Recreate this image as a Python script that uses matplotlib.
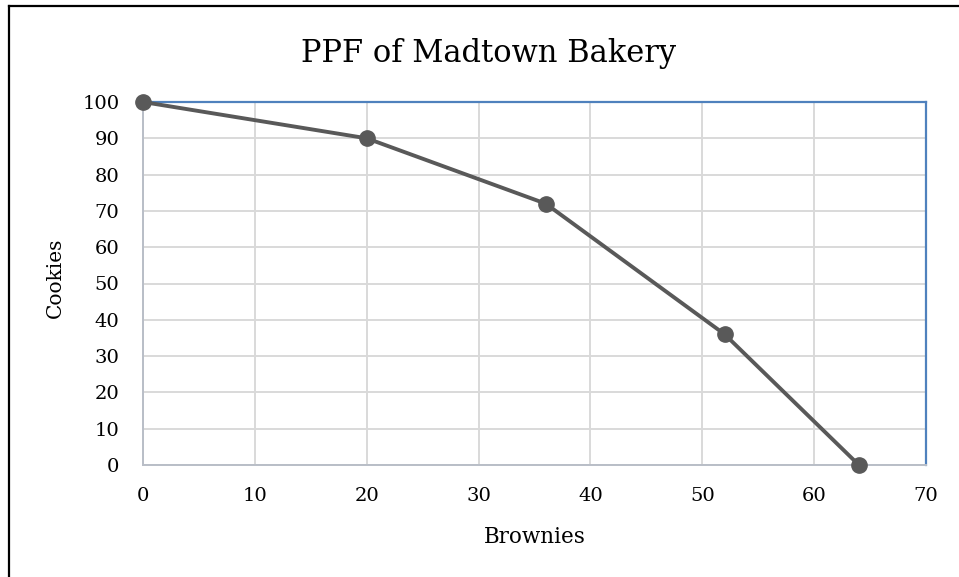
import matplotlib.pyplot as plt
from matplotlib.lines import Line2D

brownies = [0, 20, 36, 52, 64]
cookies = [100, 90, 72, 36, 0]
x_ticks = [0, 10, 20, 30, 40, 50, 60, 70]
y_ticks = [0, 10, 20, 30, 40, 50, 60, 70, 80, 90, 100]

plt.rcParams['font.family'] = ['DejaVu Serif']

W, H = 959, 577
fig = plt.figure(figsize=(W / 100, H / 100), dpi=100)
ax = fig.add_axes([143 / W, 1 - 465 / H, (926 - 143) / W, (465 - 102) / H])

ax.plot(brownies, cookies, color='#595959', lw=2.8, marker='o', ms=11,
        clip_on=False, zorder=5)

ax.set_xlim(0, 70)
ax.set_ylim(0, 100)
ax.set_xticks(x_ticks)
ax.set_yticks(y_ticks)
ax.grid(True, color='#d9d9d9', lw=1.4)
ax.set_axisbelow(True)
ax.tick_params(length=0, labelsize=14)
ax.tick_params(axis='x', pad=16)
ax.tick_params(axis='y', pad=17)

ax.spines['left'].set_color('#b9bec7')
ax.spines['bottom'].set_color('#b9bec7')
ax.spines['left'].set_linewidth(1.4)
ax.spines['bottom'].set_linewidth(1.4)
ax.spines['top'].set_color('#4f81bd')
ax.spines['right'].set_color('#4f81bd')
ax.spines['top'].set_linewidth(1.6)
ax.spines['right'].set_linewidth(1.6)

# labels placed to match the reference
fig.text(534.5 / W, 1 - 543 / H, 'Brownies', fontsize=15.5,
         ha='center', va='baseline')
fig.text(65 / W, 1 - 278 / H, 'Cookies', fontsize=14.5, rotation=90,
         ha='right', va='center')
fig.text(489 / W, 1 - 62 / H, 'PPF of Madtown Bakery', fontsize=22,
         ha='center', va='baseline')

# outer frame (top and left edges visible)
fig.add_artist(Line2D([8.5 / W, 958 / W], [1 - 5.5 / H, 1 - 5.5 / H],
                      color='black', lw=1.6, transform=fig.transFigure))
fig.add_artist(Line2D([8.5 / W, 8.5 / W], [1 - 5.5 / H, 0],
                      color='black', lw=1.6, transform=fig.transFigure))

fig.savefig('out.png', dpi=100)
